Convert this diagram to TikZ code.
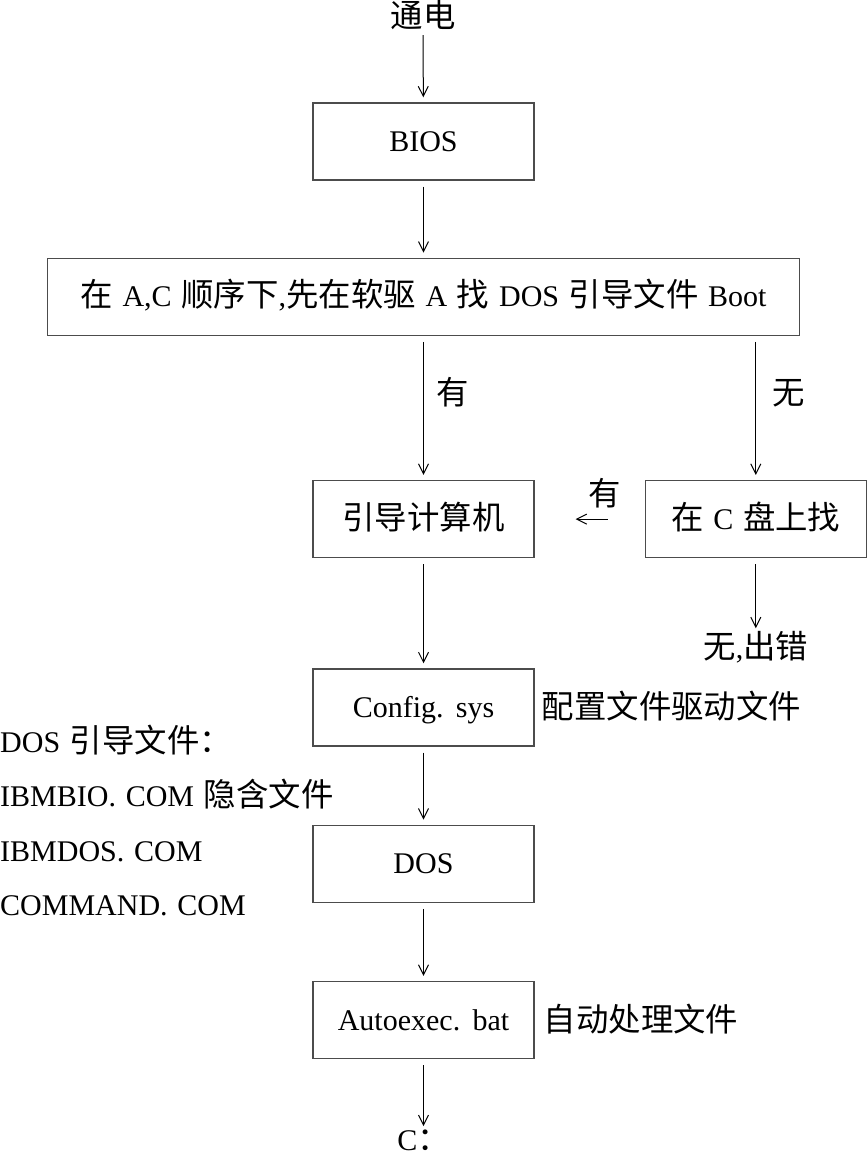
\documentclass[tikz,border=0pt]{standalone}
\usepackage{fontspec}
\setmainfont{Liberation Serif}[WordSpace=1.3]
\newfontfamily\cjk{Noto Sans CJK SC}[Scale=1.08]
\newcommand{\zh}[1]{{\cjk #1}}
\usetikzlibrary{arrows.meta, positioning}

\begin{document}
\begin{tikzpicture}[
  x=1pt, y=1pt,
  font=\fontsize{30}{36}\selectfont,
  box/.style={draw=black!70, line width=1.3pt, minimum width=221pt, minimum height=77pt,
              inner sep=0pt, text height=25pt, text depth=5pt},
  flow/.style={-{Straight Barb[length=10pt, width=10pt]}, line width=1pt,
               shorten <=6pt, shorten >=5pt},
  lab/.style={inner sep=0pt, text height=27pt, text depth=5pt}
]
\useasboundingbox (0,0) rectangle (867,-1155);

\node[lab] (power) at (423,-17) {\zh{通电}};
\node[box] (bios) at (423.5,-141.5) {BIOS};
\node[box, minimum width=752pt, below=77pt of bios] (findA)
  {\zh{在} A,C \zh{顺序下},\zh{先在软驱} A \zh{找} DOS \zh{引导文件} Boot};
\node[box, below=144pt of findA] (boot) {\zh{引导计算机}};
\node[box, right=110pt of boot] (findC) {\zh{在} C \zh{盘上找}};
\node[box, below=110pt of boot] (config) {Config. sys};
\node[box, below=78pt of config] (dos) {DOS};
\node[box, below=78pt of dos] (auto) {Autoexec. bat};

\node[lab, below=73pt of findC] (error) {\zh{无},\zh{出错}};
\node[lab, below=64pt of auto] (drive) {C\zh{：}};
\node[lab, right=7pt of config] (confignote) {\zh{配置文件驱动文件}};
\node[lab, right=9pt of auto] (autonote) {\zh{自动处理文件}};

% boot files
\node[lab, anchor=west] (files) at (0,-741) {DOS \zh{引导文件：}};
\node[lab, anchor=west] (bio) at (0,-795) {IBMBIO. COM \zh{隐含文件}};
\node[lab, anchor=west] (msdos) at (0,-850) {IBMDOS. COM};
\node[lab, anchor=west] (command) at (0,-904) {COMMAND. COM};

\draw[flow, shorten <=2pt] (power) -- (bios);
\draw[flow] (bios) -- (findA);
\draw[flow] (findA) -- node[lab, pos=0.4, right=12pt] {\zh{有}} (boot);
\draw[flow] (findA.south -| findC) -- node[lab, pos=0.4, right=16pt] {\zh{无}} (findC);
\draw[flow, shorten >=3pt] (findC) -- (error);
\draw[flow] (boot) -- (config);
\draw[flow] (config) -- (dos);
\draw[flow] (dos) -- (auto);
\draw[flow, shorten >=-3pt] (auto) -- (drive);

\coordinate (yesR) at ([xshift=-37pt]findC.west);
\coordinate (yesL) at ([xshift=41pt]boot.east);
\draw[flow, shorten <=0pt, shorten >=0pt] (yesR) -- node[lab, pos=0.1, above=8pt] {\zh{有}} (yesL);
\end{tikzpicture}
\end{document}
